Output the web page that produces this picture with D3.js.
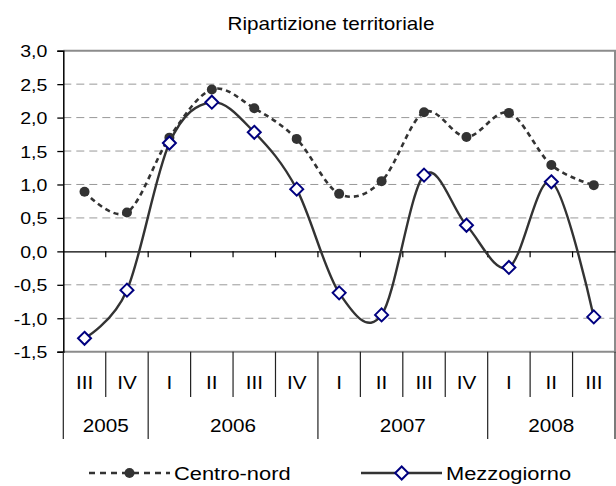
<!DOCTYPE html>
<html>
<head>
<meta charset="utf-8">
<script src="https://cdn.jsdelivr.net/npm/d3@7"></script>
<style>
  body { margin: 0; background: #fff; }
  text { font-family: "Liberation Sans", Arial, sans-serif; fill: #000; }
</style>
</head>
<body>
<div id="chart"></div>
<script>
// data
const quarters = ["III", "IV", "I", "II", "III", "IV", "I", "II", "III", "IV", "I", "II", "III"];
const years = ["2005", "2006", "2007", "2008"];
const yearSpans = [2, 4, 4, 3]; // quarters in each year
const centroNord = [0.89, 0.58, 1.70, 2.42, 2.14, 1.68, 0.86, 1.05, 2.08, 1.71, 2.07, 1.29, 0.99];
const mezzogiorno = [-1.30, -0.58, 1.62, 2.23, 1.78, 0.93, -0.62, -0.95, 1.14, 0.39, -0.24, 1.04, -0.98];
const yTicks = [-1.5, -1.0, -0.5, 0, 0.5, 1.0, 1.5, 2.0, 2.5, 3.0];

const width = 616, height = 486;
const plot = { left: 63.3, right: 615, top: 50.7, bottom: 351.7 };
const stretch = 1.15; // text in the picture is a bit wider than plain Arial

const svg = d3.select("#chart").append("svg")
  .attr("width", width)
  .attr("height", height);

const x = d3.scaleBand()
  .domain(d3.range(quarters.length))
  .range([plot.left, plot.right])
  .padding(0);

const y = d3.scaleLinear()
  .domain([-1.5, 3])
  .range([plot.bottom, plot.top]);

const fmt = d3.formatLocale({ decimal: ",", thousands: ".", grouping: [3], currency: ["", "€"], minus: "-" }).format(".1f");

// helper: stretched text
function label(g, tx, ty, str, size, anchor) {
  return g.append("text")
    .attr("transform", `translate(${tx},${ty}) scale(${stretch},1)`)
    .attr("text-anchor", anchor || "middle")
    .style("font-size", size + "px")
    .text(str);
}

// title
label(svg, 331, 30, "Ripartizione territoriale", 18);

// grid lines
svg.append("g")
  .selectAll("line")
  .data(yTicks.filter(d => d !== 0 && d !== -1.5 && d !== 3))
  .enter()
  .append("line")
  .attr("x1", plot.left)
  .attr("x2", plot.right)
  .attr("y1", d => y(d))
  .attr("y2", d => y(d))
  .attr("stroke", "#999")
  .attr("stroke-width", 1)
  .attr("stroke-dasharray", "8,5");

// frame (top, right, bottom in gray)
svg.append("path")
  .attr("d", `M${plot.left},${y(3)}H${plot.right}V${y(-1.5)}H${plot.left}`)
  .attr("fill", "none")
  .attr("stroke", "#8c8c8c")
  .attr("stroke-width", 2);

// y axis
const yAxis = svg.append("g")
  .attr("transform", `translate(${plot.left},0)`)
  .call(d3.axisLeft(y).tickValues(yTicks).tickFormat(fmt).tickSize(6).tickPadding(9));
yAxis.select(".domain").attr("stroke", "#000").attr("stroke-width", 1.5);
yAxis.selectAll(".tick line").attr("stroke", "#000").attr("stroke-width", 1.3);
yAxis.selectAll(".tick text")
  .attr("x", null)
  .attr("dy", null)
  .attr("transform", `translate(-16,6) scale(${stretch},1)`)
  .style("font-family", "\"Liberation Sans\", Arial, sans-serif")
  .style("font-size", "17px")
  .attr("fill", "#000");

// zero line with category ticks
const zero = svg.append("g")
  .attr("transform", `translate(0,${y(0)})`)
  .call(d3.axisBottom(x).tickSize(0).tickFormat(""));
zero.select(".domain").attr("stroke", "#000").attr("stroke-width", 1.2);
zero.selectAll(".tick").remove();
zero.selectAll(".sep")
  .data(d3.range(1, quarters.length))
  .enter()
  .append("line")
  .attr("x1", d => x(d))
  .attr("x2", d => x(d))
  .attr("y1", 0)
  .attr("y2", 6)
  .attr("stroke", "#000")
  .attr("stroke-width", 1.2);

// two-level category labels below the plot
const cat = svg.append("g");
const qBottom = 397, yBottom = 439;
const bounds = d3.cumsum(yearSpans);
cat.selectAll(".qsep")
  .data(d3.range(0, quarters.length + 1))
  .enter()
  .append("line")
  .attr("x1", d => d < quarters.length ? x(d) : plot.right)
  .attr("x2", d => d < quarters.length ? x(d) : plot.right)
  .attr("y1", plot.bottom)
  .attr("y2", d => (d === 0 || bounds.includes(d)) ? yBottom : qBottom)
  .attr("stroke", "#222")
  .attr("stroke-width", 1.2);

quarters.forEach((q, i) => {
  label(cat, x(i) + x.bandwidth() / 2, 389, q, 18);
});

let start = 0;
years.forEach((yr, i) => {
  const end = start + yearSpans[i];
  const x0 = x(start), x1 = end < quarters.length ? x(end) : plot.right;
  label(cat, (x0 + x1) / 2, 432, yr, 18);
  start = end;
});

// lines
const line = d3.line()
  .x((d, i) => x(i) + x.bandwidth() / 2)
  .y(d => y(d))
  .curve(d3.curveCardinal.tension(0));

svg.append("path")
  .datum(centroNord)
  .attr("d", line)
  .attr("fill", "none")
  .attr("stroke", "#333")
  .attr("stroke-width", 2.6)
  .attr("stroke-dasharray", "5,4");

svg.append("g")
  .selectAll("circle")
  .data(centroNord)
  .enter()
  .append("circle")
  .attr("cx", (d, i) => x(i) + x.bandwidth() / 2)
  .attr("cy", d => y(d))
  .attr("r", 5)
  .attr("fill", "#333");

svg.append("path")
  .datum(mezzogiorno)
  .attr("d", line)
  .attr("fill", "none")
  .attr("stroke", "#333")
  .attr("stroke-width", 2.4);

const diamond = "M0,-6.5L6.5,0L0,6.5L-6.5,0Z";
svg.append("g")
  .selectAll("path")
  .data(mezzogiorno)
  .enter()
  .append("path")
  .attr("d", diamond)
  .attr("transform", (d, i) => `translate(${x(i) + x.bandwidth() / 2},${y(d)})`)
  .attr("fill", "#fff")
  .attr("stroke", "#000080")
  .attr("stroke-width", 2);

// legend
const legY = 473;
const leg1 = svg.append("g");
leg1.append("line")
  .attr("x1", 89).attr("x2", 170)
  .attr("y1", legY).attr("y2", legY)
  .attr("stroke", "#333").attr("stroke-width", 2.6)
  .attr("stroke-dasharray", "6,5");
leg1.append("circle").attr("cx", 129.5).attr("cy", legY).attr("r", 5).attr("fill", "#333");
label(leg1, 174, legY + 7, "Centro-nord", 19, "start");

const leg2 = svg.append("g");
leg2.append("line")
  .attr("x1", 361).attr("x2", 442)
  .attr("y1", legY).attr("y2", legY)
  .attr("stroke", "#333").attr("stroke-width", 2.4);
leg2.append("path")
  .attr("d", diamond)
  .attr("transform", `translate(401.7,${legY})`)
  .attr("fill", "#fff")
  .attr("stroke", "#000080")
  .attr("stroke-width", 2);
label(leg2, 446, legY + 7, "Mezzogiorno", 19, "start");
</script>
</body>
</html>
